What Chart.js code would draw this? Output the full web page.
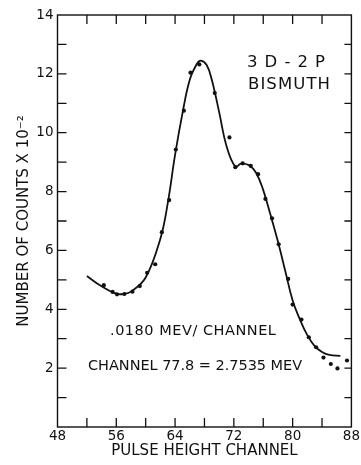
<!DOCTYPE html>
<html>
<head>
<meta charset="utf-8">
<script src="https://cdn.jsdelivr.net/npm/chart.js@4.4.1/dist/chart.umd.min.js"></script>
<style>
  html, body { margin: 0; padding: 0; background: #fff; }
  canvas { display: block; }
</style>
</head>
<body>
<canvas id="grafico" width="361" height="465"></canvas>
<script>
// ===== DADOS =====
// pontos medidos (canal, contagens x 10^-2)
const canaisPontos = [54.3, 55.5, 56.1, 57.1, 58.2, 59.2, 60.2, 61.3, 62.2, 63.2, 64.1, 65.2, 66.1, 67.3,
                      69.4, 71.4, 72.2, 73.2, 74.3, 75.3, 76.3, 77.2, 78.1, 79.4, 80.0, 81.2, 82.2, 83.2,
                      84.2, 85.2, 86.1, 87.4];
const contagensPontos = [4.82, 4.59, 4.51, 4.52, 4.60, 4.79, 5.24, 5.53, 6.62, 7.71, 9.43, 10.75, 12.04, 12.32,
                         11.35, 9.84, 8.83, 8.96, 8.87, 8.59, 7.75, 7.09, 6.21, 5.03, 4.16, 3.65, 3.05, 2.71,
                         2.36, 2.14, 1.99, 2.26];

// curva ajustada (desenhada à mão no original)
const canaisCurva = [52, 54, 56, 57, 58, 60, 62, 63, 64, 65, 66, 67, 67.5, 68.3, 69, 70,
                     71, 72.2, 73, 74, 75, 76, 77, 78, 79, 80, 81, 82, 83, 84, 85, 86.5];
const contagensCurva = [5.13, 4.78, 4.53, 4.52, 4.60, 5.08, 6.40, 7.60, 9.25, 10.65,
                        11.80, 12.35, 12.45, 12.30, 11.80, 10.70, 9.55, 8.85, 8.95, 8.90, 8.65,
                        8.05, 7.20, 6.30, 5.30, 4.30, 3.65, 3.12, 2.75, 2.55, 2.45, 2.42];

// eixos
const eixoX = { min: 48, max: 88, passo: 4, rotulo: 8 };
const eixoY = { min: 0, max: 14, passo: 1, rotulo: 2 };

const tinta = '#111111';
const fonte = '"DejaVu Sans", sans-serif';

// ===== PLUGIN: MOLDURA, MARCAS INTERNAS E ANOTAÇÕES =====
const molduraPlugin = {
    id: 'moldura',
    afterDraw(chart) {
        const ctx = chart.ctx;
        const area = chart.chartArea;
        const sx = chart.scales.x;
        const sy = chart.scales.y;
        ctx.save();
        ctx.strokeStyle = tinta;
        ctx.lineWidth = 1.4;
        ctx.strokeRect(area.left, area.top, area.right - area.left, area.bottom - area.top);

        // marcas voltadas para dentro
        ctx.lineWidth = 1.3;
        ctx.beginPath();
        sx.ticks.forEach(t => {
            if (t.value <= eixoX.min || t.value >= eixoX.max) return;
            const px = sx.getPixelForValue(t.value);
            ctx.moveTo(px, area.top); ctx.lineTo(px, area.top + 9);
            ctx.moveTo(px, area.bottom); ctx.lineTo(px, area.bottom - 9);
        });
        sy.ticks.forEach(t => {
            if (t.value <= eixoY.min || t.value >= eixoY.max) return;
            const py = sy.getPixelForValue(t.value);
            ctx.moveTo(area.left, py); ctx.lineTo(area.left + 9, py);
            ctx.moveTo(area.right, py); ctx.lineTo(area.right - 7, py);
        });
        ctx.stroke();

        // textos dentro do gráfico
        ctx.fillStyle = tinta;
        ctx.textBaseline = 'alphabetic';
        ctx.textAlign = 'left';
        escreverAjustado(ctx, '3D-2P', 247, 67, 78, '16.5px ' + fonte);
        escreverAjustado(ctx, 'BISMUTH', 248, 89, 82, '16.5px ' + fonte);
        escreverAjustado(ctx, '.0180 MEV/ CHANNEL', 110, 335, 166, '14.5px ' + fonte);
        escreverAjustado(ctx, 'CHANNEL 77.8 = 2.7535 MEV', 88, 370, 214, '14.5px ' + fonte);
        ctx.restore();
    }
};

function escreverAjustado(ctx, texto, x, y, largura, font) {
    ctx.font = font;
    ctx.letterSpacing = '0px';
    const medida = ctx.measureText(texto).width;
    const espaco = (largura - medida) / (texto.length - 1);
    ctx.letterSpacing = espaco.toFixed(2) + 'px';
    ctx.fillText(texto, x, y);
    ctx.letterSpacing = '0px';
}

// ===== CRIAÇÃO DO GRÁFICO =====
const ctx = document.getElementById('grafico').getContext('2d');

new Chart(ctx, {
    type: 'scatter',
    data: {
        datasets: [
            {
                label: 'Curva',
                data: canaisCurva.map((c, i) => ({ x: c, y: contagensCurva[i] })),
                showLine: true,
                pointRadius: 0,
                borderColor: tinta,
                borderWidth: 1.8,
                tension: 0.4
            },
            {
                label: 'Contagens',
                data: canaisPontos.map((c, i) => ({ x: c, y: contagensPontos[i] })),
                pointRadius: 2.1,
                pointBackgroundColor: tinta,
                pointBorderWidth: 0
            }
        ]
    },
    options: {
        responsive: false,
        devicePixelRatio: 1,
        animation: false,
        layout: { padding: { top: 15, right: 6.7, left: 0, bottom: 0 } },
        plugins: {
            legend: { display: false },
            tooltip: { enabled: false }
        },
        scales: {
            x: {
                type: 'linear',
                min: eixoX.min,
                max: eixoX.max,
                afterFit: s => { s.height = 38; },
                grid: { display: false, drawTicks: false },
                border: { display: false },
                ticks: {
                    stepSize: eixoX.passo,
                    autoSkip: false,
                    maxRotation: 0,
                    padding: 1,
                    color: tinta,
                    font: { family: fonte, size: 13.5 },
                    callback: v => (v % eixoX.rotulo === 0 ? v : '')
                },
                title: {
                    display: true,
                    text: 'PULSE HEIGHT CHANNEL',
                    color: tinta,
                    font: { family: fonte, size: 15 },
                    padding: { top: 0, bottom: 5 }
                }
            },
            y: {
                type: 'linear',
                min: eixoY.min,
                max: eixoY.max,
                afterFit: s => { s.width = 57.5; },
                grid: { display: false, drawTicks: false },
                border: { display: false },
                ticks: {
                    stepSize: eixoY.passo,
                    autoSkip: false,
                    padding: 4,
                    color: tinta,
                    font: { family: fonte, size: 13.5 },
                    callback: v => (v % eixoY.rotulo === 0 && v > 0 ? v : '')
                },
                title: {
                    display: true,
                    text: 'NUMBER OF COUNTS X 10⁻²',
                    color: tinta,
                    font: { family: fonte, size: 15 },
                    padding: { top: 15, bottom: 0 }
                }
            }
        }
    },
    plugins: [molduraPlugin]
});
</script>
</body>
</html>
